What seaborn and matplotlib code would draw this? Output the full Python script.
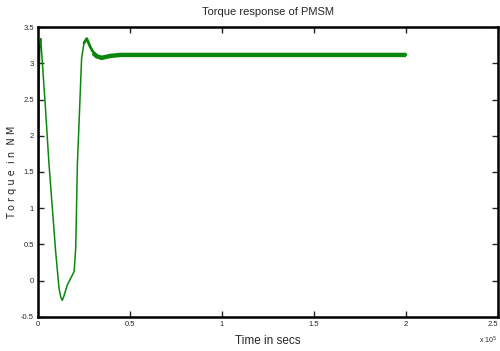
import pandas as pd
import matplotlib
matplotlib.use("Agg")
import matplotlib.pyplot as plt
import seaborn as sns

# torque trace (time in units of 1e5)
time = [0.0, 0.003, 0.006, 0.010, 0.015, 0.018, 0.040, 0.060, 0.078, 0.096,
        0.114, 0.124, 0.132, 0.140, 0.159, 0.196, 0.205, 0.214, 0.237, 0.250,
        0.265, 0.285, 0.310, 0.346, 0.390, 0.446, 1.000, 1.500, 2.000]
torque = [0.08, 1.40, 2.80, 3.25, 3.34, 3.22, 2.40, 1.60, 1.00, 0.40,
          -0.10, -0.23, -0.27, -0.22, -0.06, 0.125, 0.45, 1.60, 3.07, 3.28,
          3.34, 3.22, 3.11, 3.07, 3.10, 3.12, 3.12, 3.12, 3.12]

# ripple band in steady state
ripple_t = [0.300, 0.320, 0.346, 0.390, 0.446, 1.000, 1.500, 2.000]
ripple_v = [3.14, 3.095, 3.075, 3.10, 3.115, 3.115, 3.115, 3.115]

x_ticks = [0, 0.5, 1, 1.5, 2, 2.5]
x_tick_labels = ["0", "0.5", "1", "1.5", "2", "2.5"]
y_ticks = [-0.5, 0, 0.5, 1, 1.5, 2, 2.5, 3, 3.5]
y_tick_labels = ["-0.5", "0", "0.5", "1", "1.5", "2", "2.5", "3", "3.5"]

df = pd.DataFrame({"t": time, "torque": torque})
rip = pd.DataFrame({"t": ripple_t, "torque": ripple_v})

sns.set_style("ticks")
plt.rcParams['font.family'] = ['Liberation Sans', 'DejaVu Sans']

fig = plt.figure(figsize=(5.0, 3.51), dpi=100)
ax = fig.add_axes([0.076, 0.097, 0.92, 0.826])

green = "#0b870b"
sns.lineplot(data=df, x="t", y="torque", color=green, lw=1.1, ax=ax)
sns.lineplot(data=df[df["t"] >= 0.24], x="t", y="torque", color=green,
             lw=2.0, ax=ax)
sns.lineplot(data=rip, x="t", y="torque", color=green, lw=3.2, ax=ax,
             solid_capstyle="butt")

ax.set_xlim(0, 2.5)
ax.set_ylim(-0.5, 3.5)
ax.set_xticks(x_ticks)
ax.set_xticklabels(x_tick_labels)
ax.set_yticks(y_ticks)
ax.set_yticklabels(y_tick_labels)
ax.tick_params(direction="in", length=4, width=1, labelsize=5.5,
               top=True, right=True, pad=3)
ax.get_xticklabels()[-1].set_horizontalalignment("right")

for side in ["left", "bottom", "top", "right"]:
    ax.spines[side].set_visible(True)
    ax.spines[side].set_linewidth(1.8)
    ax.spines[side].set_color("black")

ax.set_title("Torque response of PMSM", fontsize=8, pad=9)
ax.set_xlabel("Time in secs", fontsize=8.5, labelpad=5)
ax.set_ylabel("T o r q u e  i n  N M", fontsize=7, family=['DejaVu Sans'],
              labelpad=3)

fig.text(0.958, 0.015, r"x 10$^5$", fontsize=5, ha="left", va="bottom")

fig.savefig("out.png", dpi=100, facecolor="white")
